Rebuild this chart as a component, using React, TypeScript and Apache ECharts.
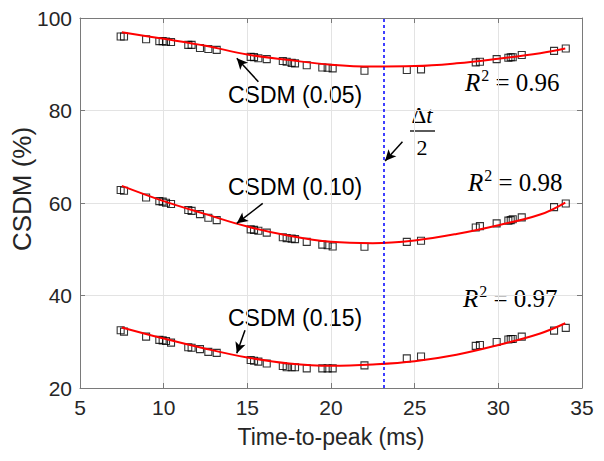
import React, { useEffect, useRef } from "react";
import * as echarts from "echarts";

const timeToPeak = [7.43, 7.63, 8.95, 9.74, 9.94, 10.14, 10.44, 11.47, 11.67, 12.17, 12.67, 13.17, 15.2, 15.4, 15.66, 16.16, 17.12, 17.35, 17.65, 17.85, 18.55, 19.48, 19.8, 20.1, 22.0, 24.53, 25.38, 28.65, 28.9, 29.9, 30.6, 30.74, 30.86, 31.4, 33.33, 34.03];
const csdm05 = [96.0, 96.0, 95.4, 95.0, 95.0, 94.9, 94.8, 94.2, 94.2, 93.5, 93.3, 93.1, 91.6, 91.55, 91.3, 91.1, 90.7, 90.55, 90.3, 90.2, 89.8, 89.3, 89.25, 89.1, 88.6, 88.75, 88.9, 90.4, 90.55, 91.1, 91.4, 91.5, 91.5, 92.0, 92.9, 93.4];
const csdm10 = [62.8, 62.66, 61.2, 60.4, 60.3, 60.07, 59.8, 58.5, 58.3, 57.6, 56.8, 56.3, 54.3, 54.2, 54.0, 53.6, 52.6, 52.4, 52.3, 52.2, 51.6, 51.0, 50.85, 50.6, 50.55, 51.6, 51.85, 54.7, 55.0, 55.6, 56.2, 56.3, 56.5, 56.9, 59.1, 59.9];
const csdm15 = [32.5, 32.2, 31.1, 30.4, 30.3, 30.15, 29.8, 28.8, 28.7, 28.4, 27.8, 27.6, 26.05, 25.9, 25.7, 25.3, 24.75, 24.5, 24.5, 24.5, 24.25, 24.25, 24.25, 24.25, 24.9, 26.4, 26.8, 29.1, 29.3, 29.95, 30.5, 30.6, 30.6, 31.1, 32.4, 33.0];

const fitX = [7.5, 10, 12.5, 15, 17.5, 20, 22.5, 25, 27.5, 30, 32.5, 34];
const fit05 = [96.9, 95.5, 94.0, 92.1, 90.9, 89.9, 89.5, 89.6, 90.2, 91.2, 92.4, 93.4];
const fit10 = [63.7, 60.4, 57.6, 54.9, 52.9, 51.6, 51.3, 51.9, 53.3, 55.2, 57.5, 60.1];
const fit15 = [33.1, 30.7, 28.5, 26.6, 25.3, 24.8, 25.1, 25.8, 27.2, 29.3, 31.8, 34.0];

const seriesLabels = ["CSDM (0.05)", "CSDM (0.10)", "CSDM (0.15)"];
const rSquared = ["0.96", "0.98", "0.97"];
const halfDeltaT = 23.13;

const xTicks = { min: 5, max: 35, interval: 5 };
const yTicks = { min: 20, max: 100, interval: 20 };

const SANS = "'Liberation Sans', Arial, sans-serif";
const SERIF = "'Liberation Serif', 'DejaVu Serif', serif";

function pairs(xs: number[], ys: number[]) {
  return xs.map((x, i) => [x, ys[i]]);
}

export default function App() {
  const ref = useRef<HTMLDivElement>(null);
  useEffect(() => {
    document.body.style.margin = "0";
    const chart = echarts.init(ref.current!, null, { renderer: "svg" });
    const scatter = (data: number[], extra: any = {}) => ({
      type: "scatter",
      data: pairs(timeToPeak, data),
      symbol: "rect",
      symbolSize: 7,
      itemStyle: { color: "transparent", borderColor: "#000", borderWidth: 1.1 },
      z: 3,
      ...extra,
    });
    const fitLine = (data: number[]) => ({
      type: "line",
      data: pairs(fitX, data),
      smooth: 0.4,
      symbol: "none",
      lineStyle: { color: "#ff0000", width: 2 },
      z: 4,
    });
    const arrowLines = [
      [{ coord: [15.66, 86.2] }, { coord: [14.37, 91.3] }],
      [{ coord: [15.92, 59.9] }, { coord: [14.37, 55.6] }],
      [{ coord: [14.86, 32.5] }, { coord: [14.37, 27.5] }],
      [{ coord: [24.27, 73.25] }, { coord: [23.23, 69.1] }],
    ];
    const rText = (val: string, x: number, y: number) => ({
      type: "text",
      x,
      y,
      style: {
        text: `{r|R}{s|2}{t| = ${val}}`,
        textAlign: "left",
        textVerticalAlign: "middle",
        fill: "#000",
        rich: {
          r: { fontFamily: SERIF, fontStyle: "italic", fontSize: 25, lineHeight: 28, verticalAlign: "bottom" },
          s: { fontFamily: SERIF, fontSize: 16, lineHeight: 28, verticalAlign: "top", padding: [0, 0, 12, 1] },
          t: { fontFamily: SERIF, fontSize: 25, lineHeight: 28, verticalAlign: "bottom" },
        },
      },
    });
    const option: any = {
      animation: false,
      grid: { left: 80, right: 22, top: 18, bottom: 73 },
      xAxis: [
        {
          type: "value",
          ...xTicks,
          axisLine: { lineStyle: { color: "#7a7a7a", width: 1 } },
          axisTick: { inside: true, length: 5, lineStyle: { color: "#7a7a7a" } },
          axisLabel: { color: "#262626", fontSize: 21, fontFamily: SANS, margin: 9 },
          splitLine: { show: true, lineStyle: { color: "#e3e3e3", width: 1 } },
        },
        {
          type: "value",
          position: "top",
          ...xTicks,
          axisLine: { lineStyle: { color: "#7a7a7a", width: 1 } },
          axisTick: { inside: true, length: 5, lineStyle: { color: "#7a7a7a" } },
          axisLabel: { show: false },
          splitLine: { show: false },
        },
      ],
      yAxis: [
        {
          type: "value",
          ...yTicks,
          axisLine: { show: true, lineStyle: { color: "#7a7a7a", width: 1 } },
          axisTick: { show: true, inside: true, length: 5, lineStyle: { color: "#7a7a7a" } },
          axisLabel: { color: "#262626", fontSize: 21, fontFamily: SANS, margin: 8 },
          splitLine: { show: true, lineStyle: { color: "#e3e3e3", width: 1 } },
        },
        {
          type: "value",
          position: "right",
          ...yTicks,
          axisLine: { show: true, lineStyle: { color: "#7a7a7a", width: 1 } },
          axisTick: { show: true, inside: true, length: 5, lineStyle: { color: "#7a7a7a" } },
          axisLabel: { show: false },
          splitLine: { show: false },
        },
      ],
      series: [
        scatter(csdm05, {
          markLine: {
            silent: true,
            symbol: ["none", "none"],
            label: { show: false },
            lineStyle: { color: "#0000ff", type: [3, 3], width: 1.5 },
            data: [{ xAxis: halfDeltaT }],
          },
        }),
        scatter(csdm10, {
          markLine: {
            silent: true,
            symbol: ["none", "arrow"],
            symbolSize: [8, 11],
            label: { show: false },
            lineStyle: { color: "#000", type: "solid", width: 1.5 },
            data: arrowLines,
          },
        }),
        scatter(csdm15),
        fitLine(fit05),
        fitLine(fit10),
        fitLine(fit15),
      ],
      graphic: [
        { type: "text", x: 228, y: 95, style: { text: seriesLabels[0], font: `23px ${SANS}`, fill: "#000", textVerticalAlign: "middle" } },
        { type: "text", x: 228, y: 187, style: { text: seriesLabels[1], font: `23px ${SANS}`, fill: "#000", textVerticalAlign: "middle" } },
        { type: "text", x: 228, y: 318, style: { text: seriesLabels[2], font: `23px ${SANS}`, fill: "#000", textVerticalAlign: "middle" } },
        rText(rSquared[0], 465, 81),
        rText(rSquared[1], 468, 181),
        rText(rSquared[2], 463, 297),
        {
          type: "text", x: 422, y: 115,
          style: { text: "{d|Δ}{t|t}", textAlign: "center", textVerticalAlign: "middle", fill: "#000",
            rich: { d: { fontFamily: SERIF, fontSize: 23 }, t: { fontFamily: SERIF, fontStyle: "italic", fontSize: 23 } } },
        },
        { type: "line", shape: { x1: 410, y1: 131, x2: 435, y2: 131 }, style: { stroke: "#000", lineWidth: 1.3 } },
        { type: "text", x: 422, y: 147, style: { text: "2", font: `22px ${SERIF}`, fill: "#000", textAlign: "center", textVerticalAlign: "middle" } },
        { type: "text", x: 331, y: 437, style: { text: "Time-to-peak (ms)", font: `23px ${SANS}`, fill: "#262626", textAlign: "center", textVerticalAlign: "middle" } },
        { type: "text", x: 22, y: 189, rotation: Math.PI / 2, style: { text: "CSDM (%)", font: `26px ${SANS}`, fill: "#262626", textAlign: "center", textVerticalAlign: "middle" } },
      ],
    };
    chart.setOption(option);
    return () => chart.dispose();
  }, []);
  return <div ref={ref} style={{ width: 604, height: 461 }} />;
}
